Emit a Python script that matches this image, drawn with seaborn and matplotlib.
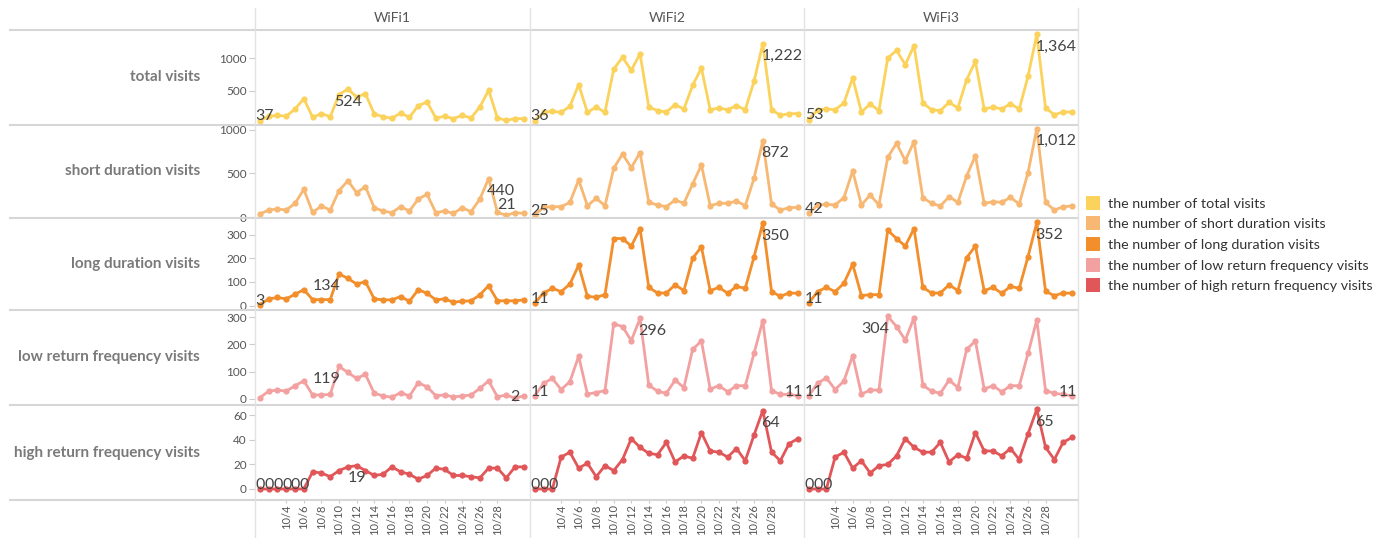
import pandas as pd
import matplotlib
matplotlib.use('Agg')
import matplotlib.pyplot as plt
import seaborn as sns
from matplotlib.lines import Line2D

# ---- data ----
days = list(range(1, 32))
wifis = ['WiFi1', 'WiFi2', 'WiFi3']
measures = ['total visits', 'short duration visits', 'long duration visits',
            'low return frequency visits', 'high return frequency visits']
legend_labels = ['the number of total visits',
                 'the number of short duration visits',
                 'the number of long duration visits',
                 'the number of low return frequency visits',
                 'the number of high return frequency visits']
tick_days = [4, 6, 8, 10, 12, 14, 16, 18, 20, 22, 24, 26, 28]
tick_labels = ['10/4', '10/6', '10/8', '10/10', '10/12', '10/14', '10/16',
               '10/18', '10/20', '10/22', '10/24', '10/26', '10/28']

total_w1 = [37, 103, 118, 103, 215, 374, 87, 144, 97, 436, 524, 400, 451, 139, 97, 72,
            154, 87, 267, 323, 77, 103, 67, 118, 77, 246, 505, 77, 41, 67, 67]
total_w2 = [36, 164, 180, 164, 257, 590, 164, 246, 164, 831, 1011, 811, 1067, 246, 190, 169,
            282, 215, 580, 846, 205, 231, 205, 267, 205, 641, 1222, 205, 118, 144, 144]
total_w3 = [53, 205, 215, 205, 308, 693, 169, 292, 190, 1000, 1118, 898, 1190, 308, 205, 190,
            318, 231, 667, 949, 215, 246, 215, 298, 215, 718, 1364, 231, 128, 169, 169]

short_w1 = [34, 80, 92, 80, 157, 317, 53, 126, 80, 302, 416, 279, 348, 107, 69, 50,
            118, 69, 206, 260, 50, 69, 42, 107, 61, 206, 440, 53, 21, 50, 42]
short_w2 = [25, 111, 118, 118, 168, 424, 130, 214, 130, 558, 722, 565, 737, 168, 138, 118,
            195, 157, 378, 596, 130, 157, 157, 183, 130, 443, 872, 149, 80, 107, 111]
short_w3 = [42, 138, 145, 138, 222, 527, 138, 252, 138, 684, 844, 646, 863, 222, 157, 126,
            233, 168, 470, 703, 157, 176, 168, 225, 149, 508, 1012, 168, 80, 118, 126]

long_w1 = [3, 28, 34, 28, 48, 67, 25, 25, 25, 134, 115, 91, 101, 28, 24, 24,
           38, 18, 67, 52, 24, 28, 14, 18, 20, 45, 84, 20, 20, 20, 24]
long_w2 = [11, 53, 73, 59, 91, 171, 39, 35, 46, 284, 284, 252, 325, 77, 53, 53,
           88, 63, 200, 249, 63, 77, 52, 81, 73, 206, 350, 59, 39, 53, 52]
long_w3 = [11, 59, 77, 59, 94, 175, 42, 46, 46, 319, 284, 252, 326, 77, 53, 53,
           88, 63, 203, 252, 63, 77, 52, 81, 73, 207, 352, 60, 42, 53, 52]

low_w1 = [4, 28, 32, 28, 48, 66, 14, 14, 16, 119, 97, 75, 90, 20, 11, 5,
          23, 10, 59, 44, 11, 14, 7, 10, 14, 38, 66, 7, 14, 2, 11]
low_w2 = [11, 57, 75, 34, 63, 157, 17, 23, 30, 276, 266, 214, 296, 50, 28, 20,
          69, 41, 182, 213, 36, 48, 26, 48, 48, 167, 288, 30, 16, 16, 11]
low_w3 = [11, 57, 77, 34, 65, 159, 17, 32, 32, 304, 266, 216, 299, 50, 28, 20,
          69, 41, 182, 213, 36, 48, 26, 48, 48, 167, 290, 30, 20, 16, 11]

high_w1 = [0, 0, 0, 0, 0, 0, 14, 13, 10, 15, 18, 19, 15, 11, 12, 18,
           14, 12, 8, 11, 17, 16, 11, 11, 10, 9, 17, 17, 9, 18, 18]
high_w2 = [0, 0, 0, 26, 30, 17, 21, 10, 19, 15, 24, 41, 34, 29, 28, 38,
           22, 27, 25, 46, 31, 30, 26, 33, 23, 44, 64, 30, 23, 37, 41]
high_w3 = [0, 0, 0, 26, 30, 17, 23, 13, 19, 20, 27, 41, 34, 30, 30, 38,
           22, 28, 25, 46, 31, 31, 27, 33, 24, 45, 65, 34, 24, 38, 42]

series = {
    'total visits': [total_w1, total_w2, total_w3],
    'short duration visits': [short_w1, short_w2, short_w3],
    'long duration visits': [long_w1, long_w2, long_w3],
    'low return frequency visits': [low_w1, low_w2, low_w3],
    'high return frequency visits': [high_w1, high_w2, high_w3],
}

rows = []
for m, lists in series.items():
    for w, vals in zip(wifis, lists):
        for d, v in zip(days, vals):
            rows.append((m, w, d, v))
df = pd.DataFrame(rows, columns=['measure', 'wifi', 'day', 'visits'])

# ---- style ----
colors = ['#FBD35C', '#F7B874', '#F28E2B', '#F3A1A0', '#E15759']
ylims = [(-31, 1432), (-11, 1054), (-19, 371), (-23, 327), (-9, 68.5)]
yticks = [[500, 1000], [0, 500, 1000], [0, 100, 200, 300], [0, 100, 200, 300], [0, 20, 40, 60]]

plt.rcParams['font.family'] = ['Lato', 'DejaVu Sans']

W, H = 1395, 538
fig = plt.figure(figsize=(W / 100, H / 100), dpi=100)
col_edges = [255, 530, 804, 1078]
row_edges = [30, 125, 218, 310, 405, 500]


def box(x0, x1, y0, y1):
    return [x0 / W, 1 - y1 / H, (x1 - x0) / W, (y1 - y0) / H]


# label placement: offset (points), ha, va
place = {'at': ((-3, -2), 'left', 'bottom'),
         'ra': ((4, -2), 'right', 'bottom'),
         'lb': ((-1, -4), 'left', 'top'),
         'rb': ((1, -4), 'right', 'top'),
         'cb': ((0, -4), 'center', 'top'),
         'ca': ((0, 2), 'center', 'bottom'),
         'cc': ((0, 1), 'center', 'center')}
overrides = {(0, 0, 11): 'cb', (1, 0, 29): 'ca', (2, 0, 10): 'rb', (3, 0, 10): 'rb',
             (3, 0, 30): 'cc', (3, 1, 31): 'ra', (3, 2, 10): 'rb', (3, 2, 31): 'ra',
             (4, 0, 12): 'cb'}

for r, m in enumerate(measures):
    for c, w in enumerate(wifis):
        ax = fig.add_axes(box(col_edges[c], col_edges[c + 1], row_edges[r], row_edges[r + 1]))
        sub = df[(df['measure'] == m) & (df['wifi'] == w)]
        sns.lineplot(data=sub, x='day', y='visits', color=colors[r], marker='o',
                     markersize=4.5, markeredgewidth=0, linewidth=2, ax=ax)
        ax.set_xlim(0.45, 31.7)
        ax.set_ylim(ylims[r])
        ax.set_facecolor('none')
        for s in ax.spines.values():
            s.set_visible(False)
        ax.set_xlabel('')
        ax.set_ylabel('')
        ax.set_xticks(tick_days)
        if r == len(measures) - 1:
            ax.set_xticklabels(tick_labels, rotation=90)
            ax.tick_params(axis='x', length=2, color='#cccccc', labelsize=8,
                           labelcolor='#555555', pad=1)
        else:
            ax.tick_params(axis='x', length=0, labelbottom=False)
        ax.set_yticks(yticks[r])
        if c == 0:
            ax.tick_params(axis='y', length=4, color='#cccccc', labelsize=8.5,
                           labelcolor='#555555', pad=2)
        else:
            ax.tick_params(axis='y', length=0, labelleft=False)

        # min / max labels, as Tableau does
        vals = sub['visits'].tolist()
        lo, hi = min(vals), max(vals)
        for d, v in zip(sub['day'], vals):
            if v != lo and v != hi:
                continue
            key = overrides.get((r, c, d), 'lb' if v == hi else 'at')
            off, ha, va = place[key]
            ax.annotate(f'{v:,}', (d, v), xytext=off, textcoords='offset points',
                        ha=ha, va=va, fontsize=11.5, color='#444444')

# separators
for y in row_edges:
    fig.add_artist(Line2D([10 / W, col_edges[-1] / W], [1 - y / H] * 2,
                          transform=fig.transFigure, color='#d6d6d6', lw=1.5))
for x in col_edges:
    fig.add_artist(Line2D([x / W] * 2, [1 - 8 / H, 0], transform=fig.transFigure,
                          color='#e2e2e2', lw=1))

# column headers
for c, w in enumerate(wifis):
    fig.text((col_edges[c] + col_edges[c + 1]) / 2 / W, 1 - 18 / H, w, ha='center',
             va='center', fontsize=10, color='#555555')

# row headers
for r, m in enumerate(measures):
    fig.text(200 / W, 1 - (row_edges[r] + row_edges[r + 1]) / 2 / H, m, ha='right',
             va='center', fontsize=11, weight='bold', color='#7a7a7a')

handles = [Line2D([0], [0], marker='s', linestyle='', markerfacecolor=col,
                  markeredgewidth=0, markersize=10) for col in colors]
leg = fig.legend(handles, legend_labels, loc='upper left',
                 bbox_to_anchor=(1079 / W, 1 - 192 / H), frameon=False, fontsize=10.3,
                 handlelength=1.2, handletextpad=0.4, labelspacing=0.6, borderaxespad=0)
for t in leg.get_texts():
    t.set_color('#333333')

fig.savefig('out.png', dpi=100)
